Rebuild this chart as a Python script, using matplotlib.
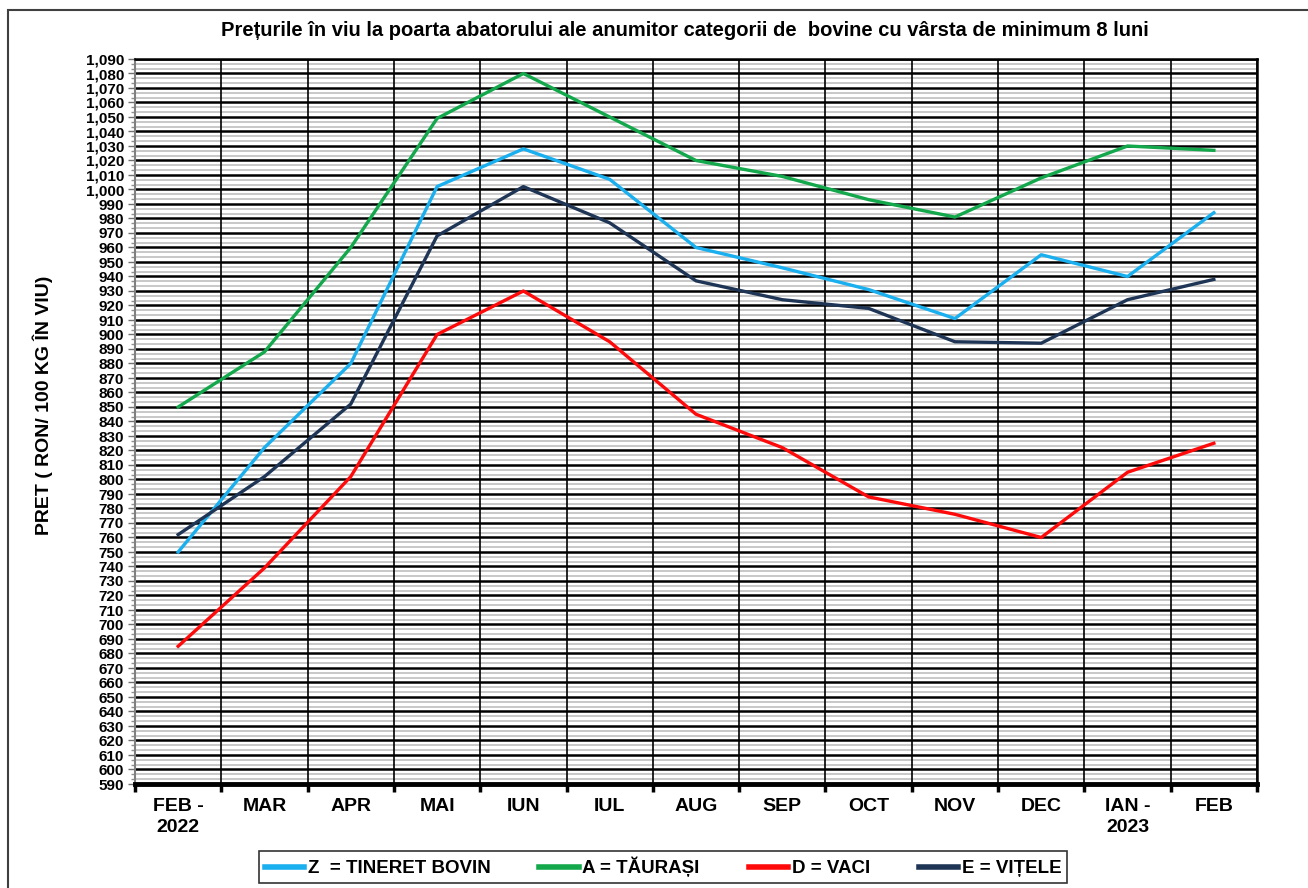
import numpy as np
import matplotlib.pyplot as plt
from matplotlib.ticker import MultipleLocator, FuncFormatter
from matplotlib.patches import Rectangle

# date
luni = ['FEB -\n2022', 'MAR', 'APR', 'MAI', 'IUN', 'IUL', 'AUG', 'SEP',
        'OCT', 'NOV', 'DEC', 'IAN -\n2023', 'FEB']
tineret_bovin = [750, 822, 880, 1002, 1028, 1007, 960, 946, 931, 911, 955, 940, 984]
taurasi = [850, 888, 960, 1049, 1080, 1050, 1020, 1009, 993, 981, 1008, 1030, 1027]
vaci = [685, 739, 802, 900, 930, 895, 845, 822, 788, 776, 760, 805, 825]
vitele = [762, 802, 852, 968, 1002, 977, 937, 924, 918, 895, 894, 924, 938]

serii = [
    ('Z  = TINERET BOVIN', tineret_bovin, '#1AAFEF'),
    ('A = TĂURAȘI', taurasi, '#13A84B'),
    ('D = VACI', vaci, '#FF0A0A'),
    ('E = VIȚELE', vitele, '#1F3556'),
]

narrow = ['Liberation Sans Narrow', 'Liberation Sans', 'DejaVu Sans']

fig = plt.figure(figsize=(13.08, 8.88), dpi=100)
ax = fig.add_axes([135 / 1308, 1 - 784 / 888, (1257 - 135) / 1308, (784 - 59) / 888])

# chenarul exterior
fig.patches.append(Rectangle((8 / 1308, -0.1), 1.2, 1 - 10 / 888 + 0.1,
                             transform=fig.transFigure, fill=False,
                             edgecolor='#404040', linewidth=1.5))

x = np.arange(len(luni))
for nume, val, col in serii:
    ax.plot(x, val, color=col, linewidth=2.4, label=nume, zorder=5)

ax.set_xlim(-0.5, len(luni) - 0.5)
ax.set_ylim(590, 1090)

# axa y
ax.yaxis.set_major_locator(MultipleLocator(10))
ax.yaxis.set_minor_locator(MultipleLocator(10 / 3))
ax.yaxis.set_major_formatter(FuncFormatter(lambda v, p: f'{int(round(v)):,}'))
ax.tick_params(axis='y', which='major', length=5, width=1, color='#707070', pad=3)
ax.tick_params(axis='y', which='minor', length=3, width=1, color='#909090')
for lab in ax.get_yticklabels():
    lab.set_family(narrow)
    lab.set_fontweight('bold')
    lab.set_fontsize(11)

# axa x
ax.set_xticks(np.arange(-0.5, len(luni)), minor=False)
ax.set_xticklabels([])
ax.set_xticks(x, minor=True)
ax.set_xticklabels(luni, minor=True, family=narrow, fontweight='bold', fontsize=14,
                   linespacing=1.3)
ax.tick_params(axis='x', which='major', length=6, width=2.5, color='black', direction='out')
ax.tick_params(axis='x', which='minor', length=0, pad=10)

# grila
ax.grid(axis='y', which='minor', color='#c4c4c4', linewidth=1.3)
ax.grid(axis='y', which='major', color='black', linewidth=1.8)
ax.grid(axis='x', which='major', color='black', linewidth=1.2)
ax.set_axisbelow(True)
ax.xaxis.set_zorder(0.7)

ax.spines['bottom'].set_linewidth(3.5)
ax.spines['left'].set_color('#808080')
ax.spines['left'].set_linewidth(1.5)
ax.spines['top'].set_linewidth(1.8)
ax.spines['right'].set_linewidth(1.8)

ax.set_ylabel('PRET ( RON/ 100 KG ÎN VIU)', family=['Liberation Sans', 'DejaVu Sans'],
              fontsize=14, fontweight='bold')
ax.yaxis.set_label_coords(-82 / 1122, (784 - 405) / 725)

fig.text(685 / 1308, 1 - 31 / 888,
         'Prețurile în viu la poarta abatorului ale anumitor categorii de  bovine cu vârsta de minimum 8 luni',
         ha='center', va='center', family=narrow, fontweight='bold', fontsize=14.5)

leg = fig.legend(loc='center', bbox_to_anchor=(663 / 1308, 1 - 867 / 888), ncol=4,
                 frameon=True, fancybox=False, edgecolor='black', handlelength=2.1,
                 handletextpad=0.2, columnspacing=2.6, borderpad=0.3,
                 prop={'family': narrow, 'weight': 'bold', 'size': 13.5})
leg.get_frame().set_linewidth(1.2)
for h in leg.get_lines():
    h.set_linewidth(4)

fig.savefig('out.png', dpi=100)
